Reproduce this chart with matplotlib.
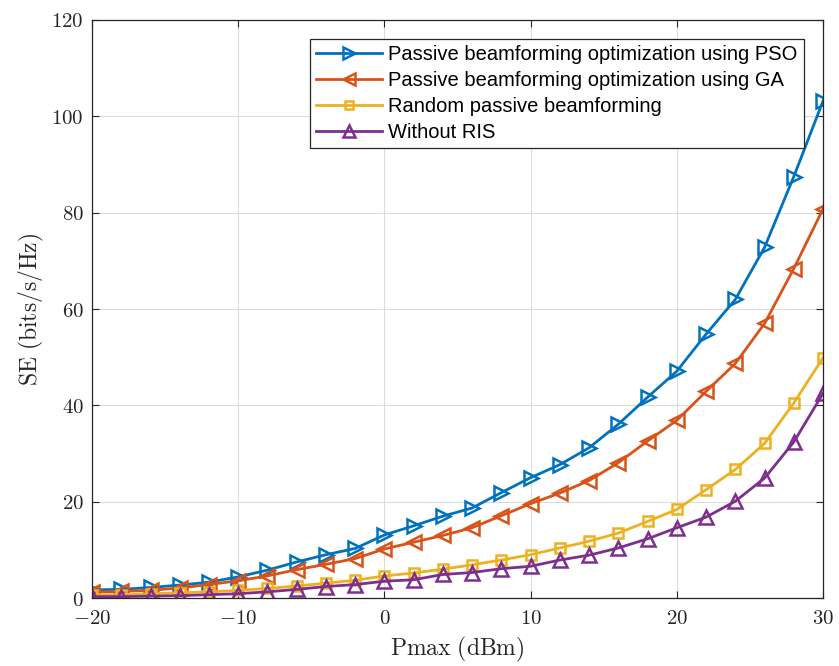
import numpy as np
import matplotlib
matplotlib.use("Agg")
from matplotlib import pyplot as plt
from matplotlib.ticker import FuncFormatter

plt.rcParams['mathtext.fontset'] = 'cm'
plt.rcParams['font.family'] = ['Liberation Sans', 'DejaVu Sans']

pmax = list(range(-20, 31, 2))
se_pso = [1.7, 1.8, 2.2, 2.7, 3.3, 4.4, 5.8, 7.5, 9.0, 10.3, 13.1, 15.0, 17.0,
          18.7, 21.9, 25.0, 27.7, 31.2, 36.1, 41.7, 47.1, 54.8, 62.0, 72.8, 87.5, 103.2]
se_ga = [1.2, 1.4, 1.6, 2.1, 2.8, 3.6, 4.6, 5.9, 7.0, 8.2, 10.2, 11.6, 13.0,
         14.6, 17.1, 19.6, 21.8, 24.4, 28.1, 32.6, 36.9, 42.9, 48.7, 57.0, 68.4, 80.8]
se_rand = [0.6, 0.7, 0.9, 1.1, 1.3, 1.6, 2.0, 2.5, 3.1, 3.7, 4.6, 5.2, 6.0,
           6.9, 7.9, 9.0, 10.4, 11.8, 13.5, 15.9, 18.4, 22.5, 26.7, 32.1, 40.5, 49.9]
se_noris = [0.3, 0.3, 0.4, 0.5, 0.7, 0.9, 1.3, 1.8, 2.4, 2.8, 3.5, 3.8, 4.9,
            5.3, 6.1, 6.6, 7.9, 8.9, 10.4, 12.3, 14.6, 16.8, 20.1, 24.9, 32.4, 42.5]
labels = ['Passive beamforming optimization using PSO',
          'Passive beamforming optimization using GA',
          'Random passive beamforming',
          'Without RIS']

fig = plt.figure(figsize=(8.39, 6.66), dpi=100)
ax = fig.add_axes([0.1097, 0.102, 0.8713, 0.868])

series = [(se_pso, '#0072BD', '>'), (se_ga, '#D95319', '<'),
          (se_rand, '#EDB120', 's'), (se_noris, '#7E2F8E', '^')]
for (ys, c, m), lab in zip(series, labels):
    ms = 7 if m == 's' else 9.5
    ax.plot(pmax, ys, color=c, lw=2.0, marker=m, ms=ms, mfc='none',
            mew=1.8, label=lab)

ax.set_xlim(-20, 30)
ax.set_ylim(0, 120)
ax.set_xticks([-20, -10, 0, 10, 20, 30])
ax.set_yticks(range(0, 121, 20))
fmt = FuncFormatter(lambda v, p: r'$%d$' % v)
ax.xaxis.set_major_formatter(fmt)
ax.yaxis.set_major_formatter(fmt)
ax.tick_params(direction='in', top=True, right=True, labelsize=15, length=5,
               color='#262626', labelcolor='#262626')
ax.tick_params(axis='x', pad=8)
ax.tick_params(axis='y', pad=6)
ax.grid(True, color='#dcdcdc', lw=0.8)
ax.set_axisbelow(True)
for s in ax.spines.values():
    s.set_color('#262626')
    s.set_linewidth(0.9)

ax.set_xlabel(r'$\mathrm{Pmax\ (dBm)}$', fontsize=17, color='#262626', labelpad=5)
ax.set_ylabel(r'$\mathrm{SE\ (bits/s/Hz)}$', fontsize=17, color='#262626', labelpad=4)

leg = ax.legend(loc='upper left', bbox_to_anchor=(0.298, 0.967), fontsize=14.5,
                fancybox=False, edgecolor='#262626', framealpha=1,
                borderaxespad=0, handlelength=3.3, labelspacing=0.34,
                borderpad=0.3, handletextpad=0.3, markerscale=0.85)
leg.get_frame().set_linewidth(0.9)

fig.savefig('out.png', dpi=100)
